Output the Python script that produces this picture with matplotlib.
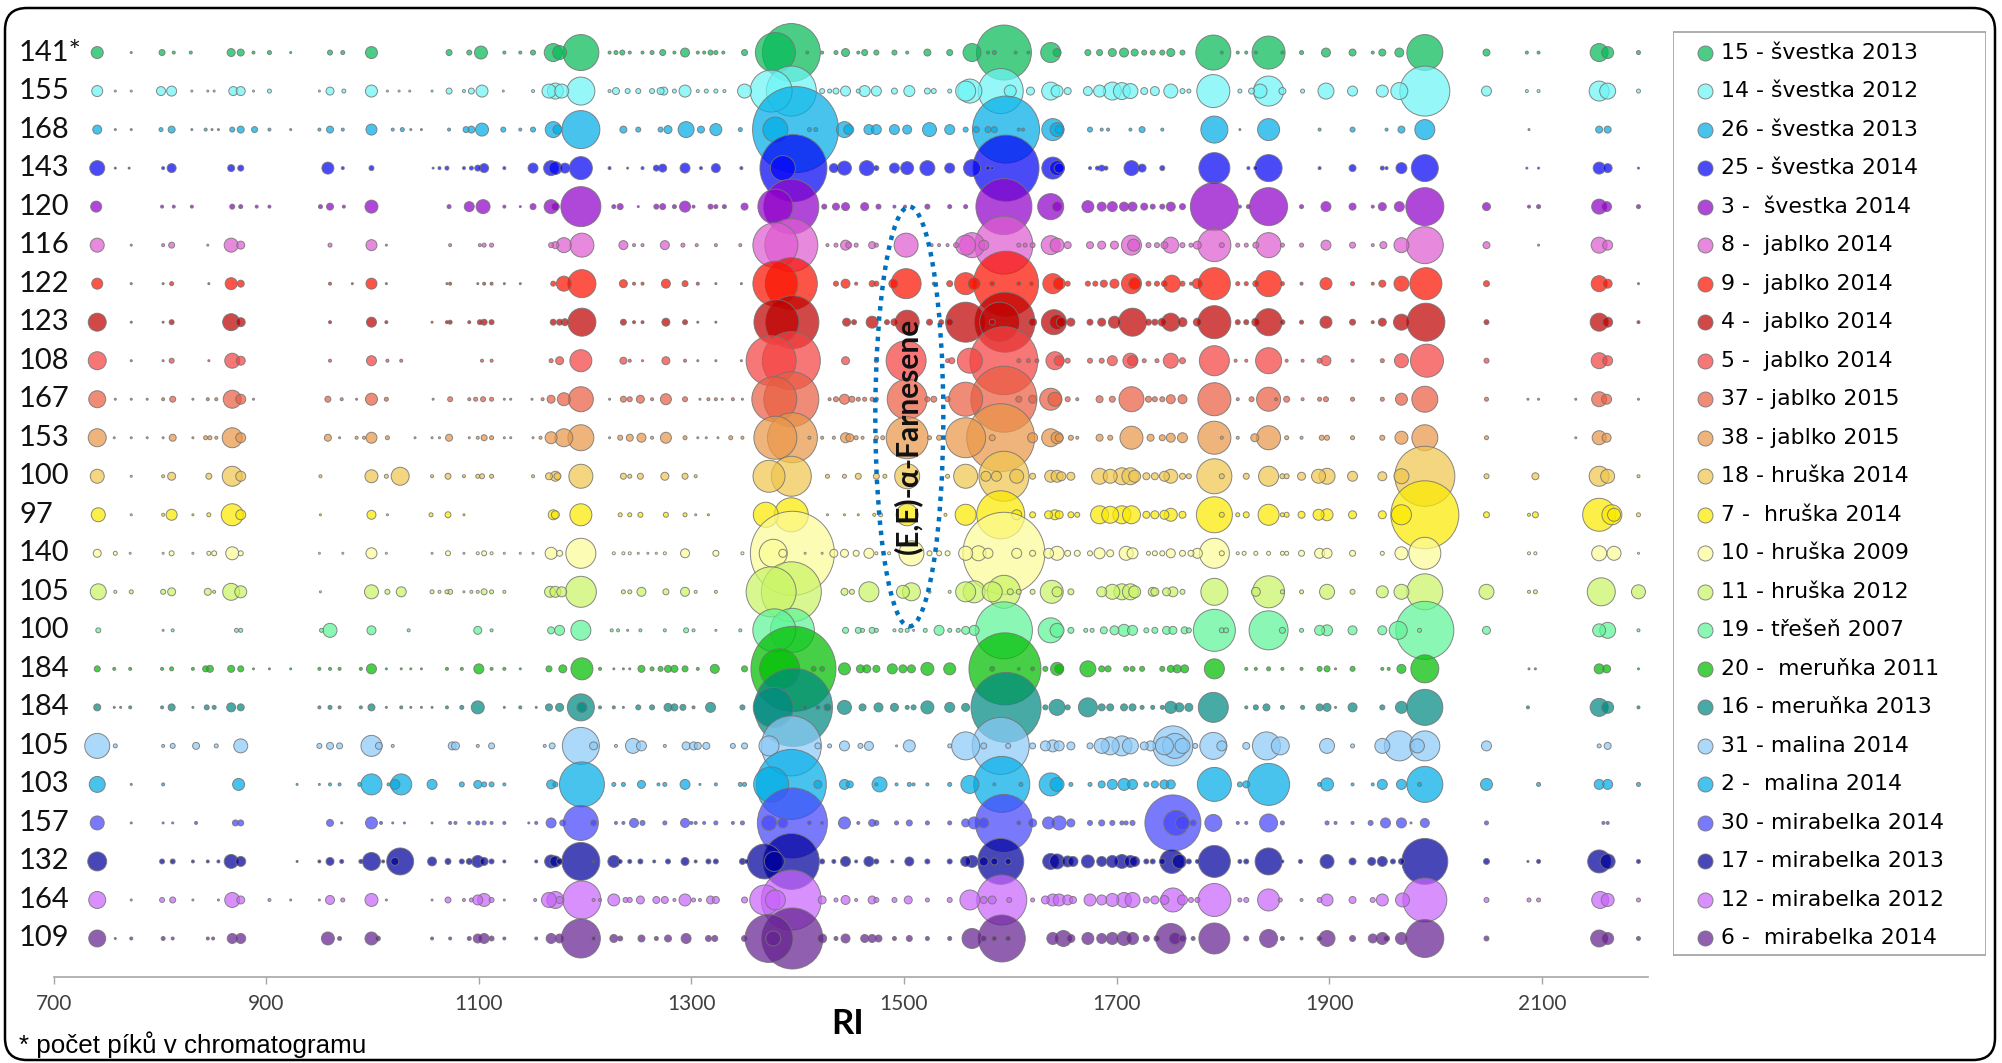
#!/usr/bin/env python3
"""Bubble chart of GC peaks (RI vs sample), one row per fruit sample."""
import matplotlib.pyplot as plt
from matplotlib.patches import Ellipse, FancyBboxPatch, Rectangle
from matplotlib.colors import to_rgb

plt.rcParams["font.family"] = ["Lato", "DejaVu Sans"]

# row labels (number of peaks in chromatogram) and legend names, top to bottom
peak_counts = ["141*", "155", "168", "143", "120", "116", "122", "123", "108", "167", "153", "100",
               "97", "140", "105", "100", "184", "184", "105", "103", "157", "132", "164", "109"]
samples = ["15 - švestka 2013", "14 - švestka 2012", "26 - švestka 2013", "25 - švestka 2014",
           "3 -  švestka 2014", "8 -  jablko 2014", "9 -  jablko 2014", "4 -  jablko 2014",
           "5 -  jablko 2014", "37 - jablko 2015", "38 - jablko 2015", "18 - hruška 2014",
           "7 -  hruška 2014", "10 - hruška 2009", "11 - hruška 2012", "19 - třešeň 2007",
           "20 -  meruňka 2011", "16 - meruňka 2013", "31 - malina 2014", "2 -  malina 2014",
           "30 - mirabelka 2014", "17 - mirabelka 2013", "12 - mirabelka 2012", "6 -  mirabelka 2014"]
colors = ["#4ccd86", "#96f8f8", "#44c4ee", "#4a4af8", "#b048d8", "#e88ade", "#fc5548", "#d04848",
          "#f87878", "#f08c78", "#f0b47c", "#f4d680", "#fcf020", "#fcfcb4", "#d8f890", "#8cf8b4",
          "#38d040", "#3aaaa4", "#acd8fa", "#44c4ee", "#7a7afc", "#4444b8", "#d890fc", "#9060b0"]

# peaks per sample: (retention index, relative peak size)
r01 = [(741,12),(773,2),(802,6),(813,3),(829,3),(867,8),(876,7),(888,3),(903,4),(923,2),(960,5),(972,4),(999,12),(1072,6),(1091,5),(1102,13),(1124,3),(1139,3),(1151,5),(1170,18),(1176,14),(1196,36),(1223,3),(1229,4),(1235,5),(1242,3),(1254,3),(1263,4),(1273,6),(1284,3),(1294,9),(1306,3),(1312,3),(1318,5),(1323,4),(1330,3),(1350,6),(1379,40),(1394,58),(1409,3),(1423,3),(1436,4),(1445,8),(1457,3),(1463,6),(1474,5),(1491,5),(1503,3),(1522,7),(1543,6),(1564,18),(1579,3),(1585,4),(1594,55),(1605,3),(1617,3),(1638,20),(1644,8),(1673,6),(1684,6),(1696,8),(1707,9),(1717,7),(1726,5),(1734,5),(1743,5),(1751,8),(1762,5),(1791,35),(1799,3),(1814,3),(1822,3),(1831,3),(1843,33),(1856,3),(1874,4),(1897,9),(1922,7),(1941,3),(1950,7),(1966,9),(1990,36),(2048,7),(2086,3),(2097,3),(2154,18),(2162,12),(2191,4)]
r02 = [(741,11),(758,2),(773,2),(801,9),(811,10),(830,2),(845,2),(851,2),(869,9),(876,9),(888,2),(903,4),(950,2),(960,8),(973,4),(999,12),(1014,2),(1025,2),(1035,2),(1056,2),(1072,6),(1086,3),(1093,6),(1103,12),(1123,2),(1151,3),(1166,14),(1172,16),(1178,14),(1196,28),(1223,3),(1229,7),(1240,5),(1250,5),(1263,5),(1271,7),(1274,8),(1284,4),(1294,12),(1306,3),(1314,4),(1323,4),(1331,3),(1350,14),(1375,42),(1394,50),(1423,5),(1430,4),(1436,6),(1445,10),(1457,4),(1463,11),(1474,10),(1491,6),(1505,11),(1522,6),(1528,5),(1543,4),(1558,20),(1562,24),(1591,45),(1600,12),(1619,8),(1638,18),(1644,12),(1654,7),(1673,9),(1684,12),(1696,18),(1705,17),(1713,15),(1726,7),(1736,9),(1751,14),(1762,5),(1768,4),(1791,33),(1816,4),(1827,6),(1835,14),(1843,30),(1856,7),(1875,4),(1897,16),(1922,10),(1950,12),(1966,17),(1990,50),(2048,10),(2086,3),(2097,3),(2154,20),(2162,16),(2191,4)]
r03 = [(741,9),(758,2),(773,2),(801,4),(811,7),(830,2),(843,3),(849,2),(855,2),(868,5),(876,7),(889,6),(903,3),(923,2),(950,3),(960,7),(972,3),(999,11),(1019,3),(1028,4),(1036,2),(1046,2),(1072,3),(1088,6),(1093,7),(1103,13),(1123,5),(1139,3),(1151,5),(1170,16),(1174,9),(1196,38),(1236,7),(1250,5),(1271,5),(1278,8),(1295,16),(1309,7),(1323,12),(1346,4),(1379,25),(1398,86),(1411,4),(1417,4),(1444,16),(1448,10),(1467,10),(1474,10),(1491,10),(1503,9),(1524,14),(1543,10),(1558,5),(1568,6),(1579,6),(1585,6),(1596,67),(1608,3),(1612,3),(1640,22),(1644,14),(1646,8),(1675,5),(1686,3),(1692,3),(1713,3),(1724,6),(1743,3),(1792,27),(1816,2),(1843,22),(1891,3),(1922,5),(1954,3),(1968,7),(1990,20),(2088,2),(2154,7),(2162,7)]
r04 = [(741,15),(758,2),(771,2),(803,3),(811,9),(867,7),(876,6),(958,12),(972,3),(999,5),(1057,2),(1063,3),(1070,4),(1086,3),(1093,4),(1099,6),(1105,9),(1124,3),(1151,10),(1168,15),(1172,13),(1181,10),(1196,23),(1223,3),(1240,2),(1254,3),(1267,6),(1273,8),(1294,10),(1309,3),(1323,9),(1347,3),(1386,25),(1396,67),(1434,9),(1444,14),(1465,15),(1474,5),(1491,10),(1503,13),(1522,15),(1543,10),(1564,17),(1579,4),(1583,3),(1596,66),(1640,22),(1644,15),(1646,10),(1675,3),(1682,4),(1686,6),(1690,4),(1714,15),(1724,8),(1743,5),(1792,31),(1824,3),(1831,4),(1843,27),(1891,3),(1922,7),(1950,4),(1954,3),(1968,11),(1990,27),(2086,2),(2097,2),(2154,12),(2162,9),(2191,2)]
r05 = [(740,11),(802,3),(813,3),(830,3),(868,5),(876,4),(891,3),(903,3),(951,4),(960,7),(973,3),(999,13),(1072,4),(1091,10),(1104,14),(1124,3),(1139,2),(1151,6),(1168,14),(1172,8),(1196,40),(1227,4),(1233,6),(1250,2),(1267,5),(1273,6),(1284,4),(1294,11),(1302,3),(1318,5),(1323,4),(1331,4),(1350,7),(1379,35),(1394,55),(1425,5),(1436,7),(1445,8),(1463,8),(1476,5),(1491,3),(1501,3),(1522,5),(1543,4),(1558,4),(1594,56),(1638,26),(1644,10),(1673,12),(1686,9),(1696,10),(1707,9),(1715,9),(1726,7),(1734,5),(1743,5),(1751,9),(1762,6),(1792,48),(1816,3),(1824,4),(1843,38),(1874,4),(1897,10),(1922,7),(1941,3),(1950,8),(1966,10),(1990,38),(2048,8),(2088,3),(2097,4),(2154,15),(2161,10),(2191,4)]
r06 = [(741,14),(773,2),(803,3),(811,6),(845,2),(867,14),(876,8),(960,4),(999,11),(1013,2),(1073,3),(1101,3),(1105,4),(1112,4),(1168,5),(1172,7),(1180,15),(1197,24),(1236,9),(1246,3),(1254,3),(1275,9),(1292,4),(1305,3),(1323,3),(1346,3),(1379,45),(1394,53),(1428,3),(1436,4),(1445,10),(1448,6),(1455,4),(1470,7),(1474,4),(1502,24),(1526,3),(1533,3),(1541,3),(1549,5),(1558,20),(1564,25),(1575,10),(1594,58),(1608,4),(1614,4),(1621,5),(1638,19),(1644,14),(1654,7),(1675,7),(1686,8),(1698,8),(1714,20),(1716,12),(1730,5),(1738,5),(1745,7),(1751,16),(1762,5),(1770,4),(1776,8),(1792,33),(1799,5),(1814,4),(1822,4),(1831,6),(1843,25),(1856,4),(1874,4),(1897,10),(1922,6),(1941,3),(1951,7),(1968,15),(1990,37),(2048,7),(2097,2),(2154,16),(2162,10)]
r07 = [(741,11),(773,2),(803,2),(811,4),(846,2),(867,12),(876,7),(960,3),(981,2),(999,11),(1013,2),(1070,2),(1073,3),(1099,2),(1105,3),(1112,3),(1124,2),(1139,2),(1170,5),(1180,15),(1197,28),(1236,8),(1246,3),(1254,3),(1276,9),(1294,6),(1306,3),(1323,2),(1347,2),(1379,45),(1394,52),(1436,5),(1445,9),(1455,3),(1470,6),(1474,5),(1490,9),(1502,30),(1528,3),(1543,6),(1558,22),(1566,12),(1583,5),(1596,65),(1608,4),(1620,4),(1640,20),(1646,12),(1654,5),(1673,5),(1680,5),(1688,7),(1698,9),(1714,20),(1717,12),(1730,5),(1738,5),(1745,6),(1752,17),(1762,5),(1770,3),(1776,10),(1792,32),(1814,4),(1822,4),(1831,6),(1843,26),(1856,4),(1874,3),(1897,12),(1922,4),(1941,3),(1950,7),(1968,15),(1991,32),(2048,6),(2154,16),(2162,9),(2191,2)]
r08 = [(741,18),(773,2),(803,2),(811,5),(867,17),(876,9),(960,3),(999,10),(1013,3),(1056,2),(1070,3),(1073,4),(1091,3),(1101,5),(1105,6),(1112,5),(1170,6),(1176,6),(1181,7),(1197,28),(1236,6),(1246,3),(1254,3),(1276,8),(1294,5),(1306,2),(1323,2),(1380,45),(1395,53),(1446,8),(1453,5),(1470,12),(1484,5),(1491,7),(1503,24),(1524,6),(1535,5),(1543,7),(1558,40),(1583,6),(1590,40),(1595,60),(1621,8),(1641,25),(1644,15),(1648,10),(1657,8),(1675,6),(1686,8),(1698,12),(1715,28),(1730,6),(1736,6),(1743,8),(1751,18),(1762,9),(1776,8),(1792,33),(1814,5),(1822,5),(1831,8),(1843,27),(1856,5),(1874,4),(1897,12),(1922,6),(1941,3),(1950,8),(1968,16),(1991,38),(2048,5),(2154,18),(2162,10),(2191,3)]
r09 = [(741,18),(773,2),(803,2),(811,5),(846,2),(868,15),(876,9),(960,3),(999,10),(1014,3),(1027,3),(1103,3),(1112,3),(1168,4),(1176,8),(1196,22),(1236,7),(1242,3),(1254,2),(1276,8),(1294,3),(1306,2),(1323,2),(1347,2),(1375,50),(1394,58),(1445,8),(1474,4),(1502,40),(1541,4),(1545,6),(1562,25),(1594,68),(1608,4),(1617,4),(1625,4),(1642,18),(1646,10),(1654,5),(1675,5),(1686,5),(1696,10),(1713,15),(1715,10),(1726,4),(1738,4),(1751,15),(1762,6),(1792,30),(1812,3),(1822,3),(1843,26),(1860,3),(1875,3),(1891,5),(1897,10),(1922,3),(1950,4),(1968,14),(1992,33),(2048,5),(2154,16),(2162,10)]
r10 = [(741,17),(758,2),(773,2),(788,2),(803,3),(812,6),(831,2),(845,3),(853,3),(868,18),(876,10),(888,2),(958,6),(971,3),(985,2),(999,12),(1013,4),(1057,2),(1073,5),(1091,3),(1097,4),(1104,5),(1112,4),(1124,2),(1130,2),(1150,2),(1160,3),(1168,8),(1180,13),(1196,25),(1223,2),(1236,6),(1242,5),(1252,8),(1263,3),(1276,11),(1294,5),(1308,2),(1316,3),(1323,3),(1329,2),(1339,3),(1348,2),(1378,45),(1394,55),(1430,3),(1436,5),(1444,10),(1451,6),(1457,4),(1463,4),(1470,4),(1474,4),(1503,40),(1522,5),(1528,6),(1541,5),(1558,34),(1594,66),(1608,6),(1621,8),(1638,22),(1642,14),(1654,5),(1663,3),(1684,7),(1696,6),(1714,25),(1730,6),(1736,5),(1743,5),(1751,9),(1762,9),(1792,33),(1814,3),(1827,5),(1843,24),(1850,3),(1860,6),(1875,3),(1891,4),(1897,5),(1922,4),(1950,4),(1968,12),(1990,26),(2048,4),(2087,2),(2097,2),(2132,2),(2154,15),(2161,10),(2191,2)]
r11 = [(741,18),(757,2),(773,2),(788,2),(803,2),(812,7),(831,2),(843,4),(847,4),(853,3),(868,20),(876,10),(958,7),(969,2),(985,3),(992,3),(999,11),(1014,4),(1040,2),(1056,2),(1063,2),(1072,7),(1091,2),(1099,3),(1105,6),(1112,4),(1124,2),(1130,2),(1151,2),(1158,3),(1168,12),(1180,18),(1196,26),(1223,2),(1233,5),(1242,7),(1253,9),(1263,3),(1276,11),(1294,4),(1306,2),(1314,2),(1325,2),(1337,4),(1348,3),(1379,43),(1395,50),(1411,3),(1423,3),(1434,3),(1445,10),(1449,8),(1455,4),(1461,3),(1474,4),(1480,4),(1503,42),(1524,4),(1533,5),(1558,40),(1583,6),(1591,68),(1621,10),(1638,18),(1644,12),(1646,8),(1657,5),(1663,3),(1684,7),(1694,5),(1714,23),(1732,7),(1743,6),(1751,9),(1762,10),(1792,33),(1799,3),(1814,3),(1830,8),(1843,24),(1860,4),(1874,3),(1893,5),(1898,5),(1922,4),(1950,5),(1968,13),(1990,26),(2048,4),(2132,2),(2154,14),(2161,9)]
r12 = [(741,14),(773,2),(803,3),(811,8),(846,6),(868,20),(876,10),(951,3),(999,13),(1013,4),(1026,18),(1056,3),(1071,6),(1086,3),(1099,4),(1103,5),(1112,4),(1151,3),(1166,7),(1172,10),(1174,7),(1196,24),(1236,6),(1242,4),(1252,6),(1275,8),(1294,6),(1304,3),(1373,32),(1394,40),(1428,4),(1444,4),(1457,6),(1474,6),(1482,4),(1503,25),(1541,4),(1558,24),(1577,10),(1587,10),(1594,50),(1606,14),(1621,6),(1638,12),(1644,12),(1648,9),(1657,8),(1684,16),(1694,14),(1705,17),(1713,17),(1717,12),(1728,7),(1736,7),(1745,10),(1751,14),(1762,6),(1768,5),(1792,35),(1799,5),(1822,6),(1843,20),(1856,5),(1860,5),(1874,8),(1890,14),(1898,16),(1922,10),(1950,9),(1968,15),(1990,60),(2048,5),(2094,7),(2154,20),(2162,14),(2191,3)]
r13 = [(742,14),(773,2),(803,3),(811,11),(831,2),(846,4),(868,22),(876,10),(951,2),(999,9),(1014,2),(1055,4),(1071,6),(1086,2),(1170,10),(1172,8),(1196,22),(1233,4),(1242,4),(1252,5),(1276,5),(1294,4),(1304,2),(1316,2),(1370,25),(1394,34),(1428,2),(1444,2),(1457,2),(1472,3),(1478,4),(1503,22),(1539,3),(1558,21),(1591,48),(1606,10),(1621,6),(1636,8),(1642,10),(1646,8),(1657,6),(1663,5),(1684,18),(1694,17),(1705,18),(1714,18),(1728,7),(1736,8),(1745,9),(1751,13),(1762,7),(1792,36),(1799,5),(1814,4),(1822,6),(1843,21),(1856,4),(1860,5),(1874,7),(1890,11),(1898,12),(1922,8),(1950,8),(1968,20),(1990,68),(2048,6),(2088,3),(2094,6),(2154,33),(2166,20),(2168,13),(2191,4)]
r14 = [(741,8),(758,4),(772,2),(803,2),(811,5),(831,2),(846,4),(851,5),(868,13),(876,5),(950,2),(972,2),(999,11),(1013,2),(1056,2),(1071,5),(1086,2),(1099,3),(1105,5),(1112,3),(1124,2),(1139,2),(1151,2),(1168,12),(1176,6),(1196,30),(1227,3),(1236,3),(1242,3),(1250,2),(1259,2),(1267,2),(1275,3),(1294,9),(1323,6),(1348,3),(1377,28),(1386,8),(1395,84),(1407,2),(1423,2),(1434,8),(1444,8),(1455,6),(1467,10),(1474,3),(1486,3),(1507,25),(1524,5),(1533,5),(1541,5),(1558,14),(1570,15),(1579,10),(1594,82),(1606,10),(1621,6),(1636,10),(1644,14),(1654,6),(1663,6),(1675,5),(1684,11),(1694,7),(1709,14),(1715,11),(1730,4),(1736,5),(1743,5),(1751,9),(1762,6),(1770,6),(1776,10),(1792,30),(1799,5),(1814,3),(1820,4),(1831,4),(1843,4),(1856,4),(1860,4),(1874,6),(1891,10),(1898,10),(1922,6),(1950,4),(1968,13),(1990,32),(2088,3),(2094,3),(2154,15),(2168,14),(2191,2)]
r15 = [(742,16),(758,3),(773,4),(803,5),(811,8),(845,7),(851,3),(867,17),(876,12),(951,2),(999,14),(1014,5),(1027,10),(1056,4),(1063,3),(1070,4),(1073,5),(1086,2),(1093,3),(1099,3),(1105,6),(1112,4),(1124,3),(1167,11),(1172,11),(1178,10),(1196,31),(1236,4),(1242,4),(1253,9),(1276,6),(1294,9),(1304,3),(1323,3),(1375,50),(1394,60),(1444,7),(1451,5),(1467,20),(1499,13),(1507,18),(1524,3),(1543,3),(1558,20),(1566,22),(1583,20),(1594,33),(1600,6),(1608,5),(1621,5),(1639,23),(1644,10),(1657,6),(1686,10),(1696,15),(1705,16),(1713,16),(1717,12),(1734,9),(1736,8),(1747,8),(1753,10),(1762,5),(1792,27),(1831,9),(1843,32),(1856,4),(1874,4),(1898,15),(1922,5),(1950,12),(1968,15),(1990,36),(2048,15),(2088,3),(2094,4),(2156,28),(2191,14)]
r16 = [(742,5),(803,2),(812,3),(872,4),(876,4),(952,4),(960,14),(999,9),(1034,3),(1099,8),(1112,3),(1168,7),(1176,10),(1196,20),(1225,3),(1231,3),(1240,2),(1252,3),(1275,3),(1295,5),(1302,3),(1323,2),(1346,3),(1378,43),(1395,44),(1445,6),(1457,6),(1461,4),(1470,6),(1474,4),(1491,3),(1497,4),(1503,4),(1509,2),(1520,4),(1533,10),(1543,4),(1551,4),(1558,8),(1566,10),(1594,57),(1638,25),(1644,14),(1657,6),(1671,4),(1677,4),(1688,7),(1698,9),(1707,12),(1715,10),(1728,5),(1736,6),(1747,8),(1753,8),(1764,7),(1768,5),(1792,42),(1799,5),(1803,5),(1843,39),(1856,6),(1874,4),(1891,10),(1898,11),(1922,9),(1950,9),(1965,18),(1985,4),(1990,58),(2048,8),(2154,13),(2162,16),(2191,3)]
r17 = [(741,6),(757,3),(772,3),(802,3),(811,4),(831,3),(843,6),(847,7),(867,7),(876,6),(888,2),(903,2),(923,2),(950,3),(960,3),(969,3),(989,3),(999,10),(1013,2),(1027,2),(1036,2),(1046,2),(1070,3),(1084,3),(1100,10),(1112,3),(1124,3),(1139,2),(1166,6),(1179,8),(1197,22),(1214,3),(1227,2),(1236,2),(1242,2),(1253,7),(1263,4),(1271,5),(1278,7),(1284,7),(1294,6),(1306,3),(1322,9),(1350,6),(1383,40),(1396,85),(1415,5),(1423,5),(1444,12),(1459,8),(1465,8),(1474,7),(1489,10),(1499,8),(1507,8),(1522,13),(1543,12),(1583,5),(1595,72),(1608,3),(1621,4),(1633,5),(1644,13),(1646,9),(1673,16),(1686,6),(1692,6),(1709,5),(1715,5),(1724,5),(1743,5),(1751,7),(1757,8),(1764,8),(1792,20),(1822,3),(1831,3),(1843,4),(1856,3),(1874,3),(1891,5),(1898,6),(1906,2),(1922,5),(1950,3),(1956,3),(1968,9),(1990,28),(2088,2),(2094,2),(2154,10),(2161,8),(2191,2)]
r18 = [(741,7),(757,2),(763,2),(772,3),(802,3),(811,7),(831,2),(844,5),(851,4),(867,9),(876,7),(950,3),(960,4),(969,3),(989,3),(999,7),(1013,2),(1027,3),(1036,2),(1046,2),(1056,2),(1070,3),(1084,4),(1099,13),(1124,2),(1139,3),(1154,2),(1166,7),(1176,8),(1196,27),(1197,10),(1214,3),(1227,3),(1236,2),(1250,5),(1263,5),(1278,8),(1284,7),(1292,6),(1302,3),(1318,10),(1348,5),(1377,40),(1396,78),(1407,5),(1419,4),(1428,7),(1444,14),(1461,7),(1476,9),(1491,8),(1503,4),(1509,5),(1522,13),(1543,10),(1558,8),(1596,70),(1633,5),(1644,16),(1654,5),(1673,19),(1686,7),(1694,7),(1707,7),(1715,7),(1724,4),(1734,4),(1743,4),(1751,12),(1759,9),(1768,8),(1791,30),(1822,3),(1831,5),(1841,7),(1856,4),(1875,4),(1891,7),(1898,8),(1906,2),(1922,9),(1950,5),(1968,12),(1990,36),(2087,3),(2154,18),(2162,12),(2191,3)]
r19 = [(741,25),(758,4),(803,3),(812,5),(834,7),(853,4),(876,14),(950,5),(960,7),(969,6),(999,21),(1006,7),(1019,3),(1075,8),(1078,8),(1099,3),(1112,6),(1162,3),(1169,6),(1196,37),(1208,8),(1229,3),(1245,15),(1253,10),(1275,3),(1295,8),(1302,8),(1306,7),(1314,7),(1339,5),(1350,6),(1373,20),(1394,60),(1419,6),(1430,4),(1444,10),(1459,5),(1467,9),(1493,2),(1505,12),(1543,4),(1558,28),(1575,6),(1591,57),(1598,5),(1621,6),(1633,10),(1640,12),(1646,10),(1657,8),(1675,6),(1686,15),(1694,18),(1705,20),(1713,16),(1726,8),(1732,10),(1745,18),(1753,40),(1755,25),(1762,15),(1774,5),(1791,27),(1799,10),(1822,7),(1841,28),(1854,18),(1898,15),(1922,4),(1950,15),(1966,30),(1983,14),(1990,30),(2048,10),(2154,4),(2162,7)]
r20 = [(741,16),(773,2),(803,3),(874,12),(929,2),(950,2),(960,3),(969,3),(988,4),(999,21),(1015,3),(1021,10),(1027,21),(1056,10),(1084,5),(1099,8),(1105,5),(1112,5),(1124,3),(1168,9),(1172,5),(1197,45),(1227,4),(1236,4),(1253,8),(1269,3),(1275,4),(1294,10),(1308,2),(1323,3),(1346,4),(1350,4),(1375,35),(1394,70),(1419,8),(1444,10),(1449,7),(1474,3),(1477,15),(1493,3),(1505,4),(1509,3),(1522,3),(1543,4),(1562,18),(1585,3),(1592,56),(1610,4),(1638,23),(1644,14),(1657,4),(1675,4),(1686,7),(1696,10),(1707,12),(1715,10),(1728,5),(1736,7),(1745,9),(1751,9),(1792,34),(1816,5),(1822,7),(1843,42),(1891,4),(1898,13),(1922,3),(1941,3),(1950,10),(1968,10),(1985,4),(1990,36),(2048,12),(2097,4),(2154,10),(2162,10),(2191,4)]
r21 = [(741,14),(773,2),(803,2),(812,2),(834,3),(871,6),(876,6),(960,7),(971,2),(999,12),(1008,3),(1019,2),(1030,2),(1056,2),(1073,3),(1078,3),(1091,3),(1099,4),(1105,4),(1112,3),(1124,3),(1147,2),(1154,3),(1168,10),(1179,6),(1196,35),(1208,6),(1229,3),(1236,3),(1246,9),(1254,5),(1275,4),(1294,9),(1300,3),(1304,3),(1312,3),(1323,4),(1339,3),(1348,4),(1373,15),(1386,10),(1395,70),(1411,4),(1423,3),(1444,12),(1457,3),(1470,7),(1474,5),(1493,4),(1505,6),(1522,4),(1543,4),(1558,8),(1566,12),(1575,10),(1594,57),(1608,4),(1621,8),(1636,12),(1646,14),(1657,8),(1675,5),(1686,6),(1696,5),(1705,4),(1709,4),(1715,5),(1753,56),(1756,25),(1762,14),(1772,6),(1791,17),(1814,3),(1822,3),(1843,18),(1856,4),(1898,4),(1906,3),(1922,3),(1939,5),(1953,10),(1968,10),(1977,2),(1990,9),(2048,4),(2158,3),(2162,3)]
r22 = [(741,19),(802,5),(812,5),(831,3),(845,3),(855,3),(867,14),(876,10),(929,2),(950,3),(960,8),(971,4),(989,4),(999,18),(1010,3),(1021,8),(1026,27),(1056,9),(1071,6),(1084,5),(1091,6),(1099,12),(1105,8),(1112,5),(1124,3),(1154,3),(1168,13),(1172,11),(1176,6),(1196,38),(1208,2),(1227,12),(1233,4),(1242,4),(1252,5),(1265,3),(1278,5),(1294,8),(1304,3),(1316,5),(1323,5),(1348,6),(1352,4),(1369,35),(1378,20),(1394,56),(1423,5),(1434,4),(1445,10),(1455,3),(1467,10),(1474,5),(1489,3),(1505,9),(1522,5),(1543,5),(1558,10),(1564,12),(1575,9),(1585,7),(1591,46),(1598,6),(1638,16),(1644,15),(1654,11),(1659,10),(1673,13),(1686,10),(1696,12),(1705,14),(1713,12),(1717,10),(1728,5),(1734,5),(1743,6),(1752,24),(1759,14),(1768,5),(1776,4),(1792,32),(1816,4),(1822,5),(1843,27),(1856,3),(1873,4),(1898,14),(1922,7),(1940,8),(1950,10),(1960,5),(1968,6),(1990,46),(2048,6),(2087,2),(2097,4),(2154,23),(2162,15),(2191,4)]
r23 = [(741,17),(773,2),(802,5),(812,6),(831,2),(855,2),(868,15),(876,8),(903,3),(923,2),(950,2),(960,9),(972,4),(999,13),(1013,2),(1056,2),(1071,6),(1086,3),(1093,4),(1099,10),(1105,13),(1112,5),(1124,2),(1153,3),(1166,15),(1172,17),(1176,7),(1197,38),(1208,3),(1214,3),(1227,12),(1238,5),(1242,5),(1252,8),(1267,7),(1275,7),(1284,3),(1294,12),(1302,4),(1308,3),(1318,8),(1323,7),(1350,6),(1369,30),(1379,20),(1394,60),(1423,8),(1436,4),(1445,9),(1455,3),(1470,8),(1474,5),(1491,5),(1504,8),(1522,4),(1543,5),(1562,20),(1575,7),(1583,8),(1592,50),(1599,5),(1621,4),(1633,8),(1640,12),(1646,12),(1654,10),(1659,7),(1675,12),(1686,10),(1696,13),(1707,15),(1715,15),(1728,6),(1736,8),(1745,9),(1753,24),(1762,10),(1770,5),(1776,5),(1792,33),(1816,4),(1822,5),(1843,22),(1854,4),(1874,3),(1891,5),(1898,12),(1922,7),(1941,5),(1950,12),(1969,14),(1990,44),(2048,5),(2088,4),(2097,4),(2155,17),(2162,13),(2191,4)]
r24 = [(741,17),(758,2),(773,3),(803,4),(812,3),(845,3),(850,3),(868,10),(876,10),(958,13),(969,4),(999,13),(1005,5),(1056,3),(1073,3),(1091,4),(1099,9),(1105,10),(1112,5),(1124,3),(1154,3),(1168,10),(1176,9),(1196,39),(1208,4),(1227,8),(1233,5),(1253,7),(1267,4),(1278,7),(1295,10),(1316,6),(1322,6),(1350,6),(1373,48),(1377,15),(1395,61),(1423,9),(1436,4),(1445,9),(1463,8),(1470,8),(1476,7),(1491,4),(1505,6),(1522,4),(1543,4),(1564,20),(1575,6),(1585,5),(1592,47),(1598,5),(1640,12),(1650,16),(1657,8),(1673,12),(1686,10),(1696,12),(1707,14),(1715,12),(1728,6),(1738,6),(1751,30),(1755,12),(1762,7),(1772,4),(1792,31),(1822,5),(1843,18),(1856,4),(1874,3),(1891,5),(1898,16),(1922,6),(1941,9),(1950,12),(1954,6),(1968,12),(1990,38),(2048,5),(2154,17),(2162,12),(2191,4)]

rows = [r01, r02, r03, r04, r05, r06, r07, r08, r09, r10, r11, r12,
        r13, r14, r15, r16, r17, r18, r19, r20, r21, r22, r23, r24]

ALPHA = 0.72
PT = 0.72  # peak size unit -> points


def fill(c):
    # colour that looks like c on white once drawn with ALPHA
    r, g, b = to_rgb(c)
    f = lambda v: min(1.0, max(0.0, (v - (1 - ALPHA)) / ALPHA))
    return (f(r), f(g), f(b), ALPHA)


fig = plt.figure(figsize=(20.02, 10.63), dpi=100)
ax = fig.add_axes([0.0268, 0.0809, 0.8232 - 0.0268, 0.9868 - 0.0809])
n = len(rows)
for i, (peaks, col) in enumerate(zip(rows, colors)):
    y = n - i
    peaks = sorted(peaks, key=lambda p: -p[1])
    xs = [p[0] for p in peaks]
    ss = [(p[1] * PT) ** 2 for p in peaks]
    ax.scatter(xs, [y] * len(xs), s=ss, color=fill(col), edgecolors=(0.45, 0.45, 0.45, 0.85),
               linewidths=0.7, clip_on=False, zorder=2 + i * 0.01)
    ax.text(-0.0217, y, peak_counts[i], transform=ax.get_yaxis_transform(), ha="left",
            va="center", fontsize=21, color="#111111")

ax.set_xlim(700, 2200)
ax.set_ylim(0, 25)
ax.set_xticks(range(700, 2101, 200))
ax.tick_params(axis="x", direction="out", length=5, width=1, color="#a6a6a6",
               labelsize=15, labelcolor="#404040", pad=7)
ax.set_yticks([])
for side in ("left", "right", "top"):
    ax.spines[side].set_visible(False)
ax.spines["bottom"].set_color("#a6a6a6")
ax.spines["bottom"].set_linewidth(1.2)

# (E,E)-alpha-farnesene annotation
ax.add_patch(Ellipse((1505, 14.55), 64, 10.9, fill=False, edgecolor="#0070c0", lw=3.2,
                     linestyle=(0, (1, 1.3)), zorder=5, clip_on=False))
ax.text(1503, 14.05, "(E,E)-α-Farnesene", rotation=90, ha="center", va="center",
        fontsize=21.5, fontweight="bold", color="#111111", zorder=6)

# legend drawn on the same row grid
lax = fig.add_axes([0.8357, 0.0809, 0.992 - 0.8357, 0.9868 - 0.0809])
lax.set_xlim(0, 1)
lax.set_ylim(0, 25)
lax.axis("off")
lax.add_patch(Rectangle((0, 0.57), 1, 23.96, fill=False, edgecolor="#a0a0a0", lw=1.2))
for i, (lab, col) in enumerate(zip(samples, colors)):
    y = n - i
    lax.scatter([0.102], [y], s=(15 * PT) ** 2, color=fill(col),
                edgecolors=(0.45, 0.45, 0.45, 0.85), linewidths=0.7)
    lax.text(0.153, y, lab, ha="left", va="center", fontsize=15.8, color="black",
             family="DejaVu Sans")

fig.text(0.4236, 0.0367, "RI", ha="center", va="center", fontsize=25, fontweight="bold")
fig.text(0.0095, 0.0175, "* počet píků v chromatogramu", ha="left", va="center", fontsize=18.7,
         family=["Liberation Sans", "DejaVu Sans"])

fig.patches.append(FancyBboxPatch((0.05, 0.03), 19.9, 10.52,
                                  boxstyle="round,pad=0,rounding_size=0.22",
                                  transform=fig.dpi_scale_trans, fill=False,
                                  edgecolor="black", lw=1.8))

fig.savefig("out.png", dpi=100)
